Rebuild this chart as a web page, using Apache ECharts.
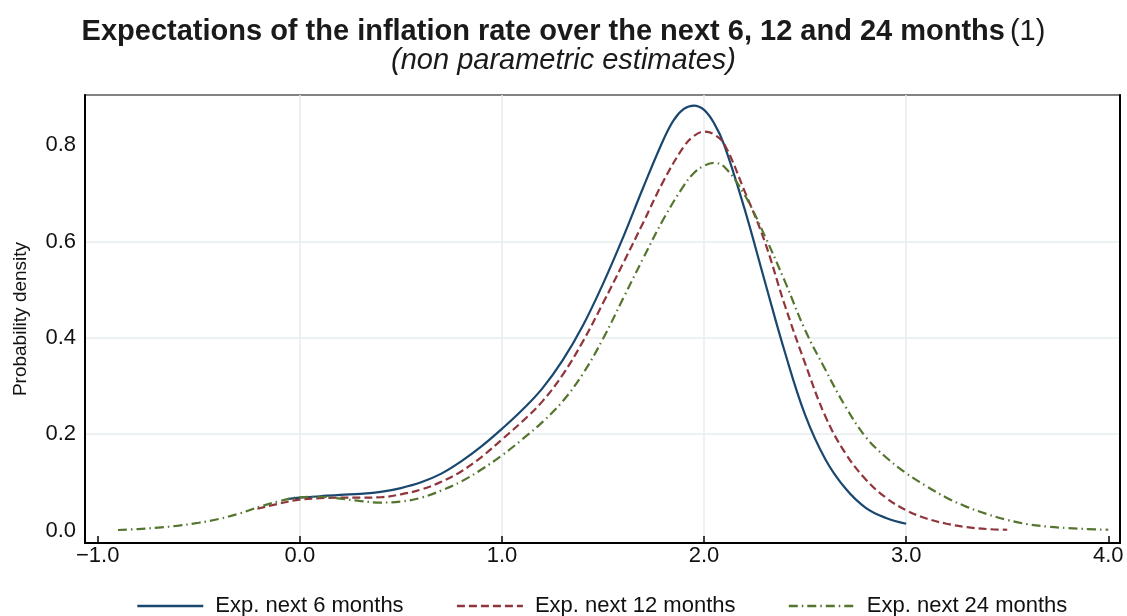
<!DOCTYPE html>
<html>
<head>
<meta charset="utf-8">
<script src="https://cdn.jsdelivr.net/npm/echarts@6/dist/echarts.min.js"></script>
<style>
  html, body { margin: 0; padding: 0; background: #fff; }
  #chart { width: 1127px; height: 616px; }
</style>
</head>
<body>
<div id="chart"></div>
<script>
// ---- Data ----
const seriesNames = ['Exp. next 6 months', 'Exp. next 12 months', 'Exp. next 24 months'];

const x6  = [-0.06, 0.0, 0.1, 0.2, 0.3, 0.4, 0.5, 0.6, 0.7, 0.8, 0.9, 1.0, 1.1, 1.2, 1.3, 1.4, 1.5, 1.6, 1.7, 1.8, 1.85, 1.9, 1.95, 2.0, 2.05, 2.1, 2.2, 2.3, 2.4, 2.5, 2.6, 2.7, 2.8, 2.9, 3.0];
const y6  = [0.065, 0.068, 0.071, 0.074, 0.076, 0.080, 0.088, 0.100, 0.118, 0.144, 0.175, 0.211, 0.250, 0.295, 0.353, 0.425, 0.512, 0.609, 0.713, 0.812, 0.852, 0.875, 0.882, 0.873, 0.845, 0.800, 0.668, 0.518, 0.370, 0.240, 0.148, 0.087, 0.047, 0.026, 0.014];

const x12 = [-0.21, -0.1, 0.0, 0.1, 0.2, 0.3, 0.4, 0.5, 0.6, 0.7, 0.8, 0.9, 1.0, 1.1, 1.2, 1.3, 1.4, 1.5, 1.6, 1.7, 1.8, 1.9, 1.95, 2.0, 2.05, 2.1, 2.2, 2.3, 2.4, 2.5, 2.6, 2.7, 2.8, 2.9, 3.0, 3.1, 3.2, 3.3, 3.4, 3.5];
const y12 = [0.045, 0.056, 0.064, 0.067, 0.068, 0.068, 0.069, 0.075, 0.085, 0.101, 0.123, 0.153, 0.189, 0.226, 0.268, 0.323, 0.392, 0.472, 0.555, 0.640, 0.726, 0.797, 0.819, 0.828, 0.822, 0.802, 0.705, 0.600, 0.467, 0.347, 0.237, 0.160, 0.106, 0.068, 0.042, 0.025, 0.014, 0.007, 0.003, 0.0015];

const x24 = [-0.9, -0.8, -0.7, -0.6, -0.5, -0.4, -0.3, -0.2, -0.1, 0.0, 0.1, 0.2, 0.3, 0.4, 0.5, 0.6, 0.7, 0.8, 0.9, 1.0, 1.1, 1.2, 1.3, 1.4, 1.5, 1.6, 1.7, 1.8, 1.9, 1.95, 2.0, 2.05, 2.1, 2.2, 2.3, 2.4, 2.5, 2.6, 2.7, 2.8, 2.9, 3.0, 3.1, 3.2, 3.3, 3.4, 3.5, 3.6, 3.7, 3.8, 3.9, 4.0];
const y24 = [0.001, 0.003, 0.006, 0.010, 0.016, 0.024, 0.035, 0.049, 0.061, 0.069, 0.070, 0.066, 0.061, 0.058, 0.060, 0.068, 0.083, 0.102, 0.127, 0.156, 0.189, 0.225, 0.268, 0.325, 0.398, 0.482, 0.566, 0.647, 0.716, 0.742, 0.757, 0.763, 0.755, 0.697, 0.612, 0.517, 0.416, 0.334, 0.257, 0.194, 0.152, 0.119, 0.092, 0.068, 0.049, 0.034, 0.022, 0.013, 0.008, 0.005, 0.003, 0.0015];

const xTickValues = [-1, 0, 1, 2, 3, 4];
const yTickValues = [0, 0.2, 0.4, 0.6, 0.8];

// ---- Chart ----
const pairs = (xs, ys) => xs.map((x, i) => [x, ys[i]]);
const fontFam = '"Liberation Sans", Arial, Helvetica, sans-serif';
const gridColor = '#e6eef1';
const yMin = -0.026, yMax = 0.904;

const chart = echarts.init(document.getElementById('chart'), null, { renderer: 'canvas' });

chart.setOption({
  backgroundColor: '#ffffff',
  animation: false,
  title: [{
    text: '{b|Expectations of the inflation rate over the next 6, 12 and 24 months} {n|(1)}',
    left: 'center',
    top: 12,
    textStyle: {
      rich: {
        b: { fontFamily: fontFam, fontSize: 29, fontWeight: 'bold', color: '#1a1a1a' },
        n: { fontFamily: fontFam, fontSize: 29, fontWeight: 'normal', color: '#1a1a1a' }
      }
    }
  }, {
    text: '(non parametric estimates)',
    left: 'center',
    top: 41,
    textStyle: { fontFamily: fontFam, fontSize: 29, fontStyle: 'italic', fontWeight: 'normal', color: '#1a1a1a' }
  }],
  grid: {
    left: 85, right: 7, top: 95, bottom: 73,
    show: true, borderColor: '#5a5a5a', borderWidth: 1.5, backgroundColor: 'transparent'
  },
  legend: {
    top: 590,
    left: 131,
    itemWidth: 66,
    itemHeight: 14,
    itemGap: 52,
    itemStyle: { opacity: 0 },
    lineStyle: { width: 2.6 },
    textStyle: { fontFamily: fontFam, fontSize: 22, color: '#111', padding: [0, 0, 0, 7] },
    data: seriesNames
  },
  xAxis: {
    type: 'value',
    min: -1.063,
    max: 4.058,
    axisLine: { show: true, onZero: false, lineStyle: { color: '#000', width: 2 } },
    axisTick: { show: true, inside: true, length: 7, customValues: xTickValues, lineStyle: { color: '#000', width: 1.5 } },
    axisLabel: {
      customValues: xTickValues,
      fontFamily: fontFam, fontSize: 22, color: '#111', margin: 2,
      formatter: v => (v < 0 ? '\u2212' : '') + Math.abs(v).toFixed(1)
    },
    splitLine: { show: true, showMinLine: false, showMaxLine: false, lineStyle: { color: gridColor, width: 1.5 } }
  },
  yAxis: [{
    type: 'value',
    min: yMin,
    max: yMax,
    name: 'Probability density',
    nameLocation: 'middle',
    nameGap: 55,
    nameTextStyle: { fontFamily: fontFam, fontSize: 19, color: '#111' },
    axisLine: { show: true, onZero: false, lineStyle: { color: '#000', width: 2 } },
    axisTick: { show: false, customValues: yTickValues },
    axisLabel: {
      customValues: yTickValues,
      fontFamily: fontFam, fontSize: 22, color: '#111', margin: 9,
      formatter: v => v.toFixed(1)
    },
    splitLine: { show: true, showMinLine: false, showMaxLine: false, lineStyle: { color: gridColor, width: 1.5 } }
  }, {
    type: 'value',
    position: 'right',
    min: yMin,
    max: yMax,
    axisLine: { show: true, onZero: false, lineStyle: { color: '#000', width: 2 } },
    axisTick: { show: false },
    axisLabel: { show: false },
    splitLine: { show: false }
  }],
  series: [{
    name: seriesNames[0],
    type: 'line',
    data: pairs(x6, y6),
    smooth: 0.4,
    showSymbol: false,
    symbol: 'none',
    color: '#1a476f',
    lineStyle: { color: '#1a476f', width: 2.2 },
    z: 3
  }, {
    name: seriesNames[1],
    type: 'line',
    data: pairs(x12, y12),
    smooth: 0.4,
    showSymbol: false,
    symbol: 'none',
    color: '#90353b',
    lineStyle: { color: '#90353b', width: 2.2, type: [8, 4] },
    z: 4
  }, {
    name: seriesNames[2],
    type: 'line',
    data: pairs(x24, y24),
    smooth: 0.4,
    showSymbol: false,
    symbol: 'none',
    color: '#55752f',
    lineStyle: { color: '#55752f', width: 2.2, type: [9, 4, 1.5, 4] },
    z: 5
  }]
});
</script>
</body>
</html>
